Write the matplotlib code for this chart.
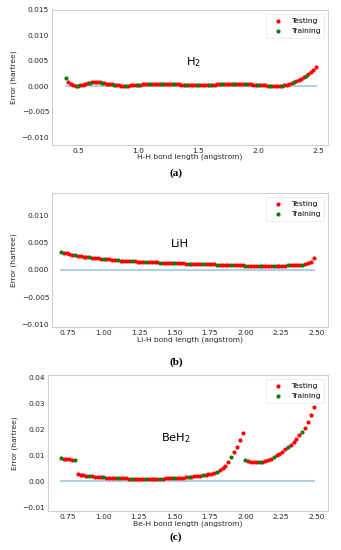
import numpy as np
import matplotlib
matplotlib.use('Agg')
import matplotlib.pyplot as plt

# bond lengths (angstrom), sampled every 0.02
x_h2 = np.arange(40, 250, 2) / 100.0
x_lih = np.arange(70, 250, 2) / 100.0
x_beh2 = np.arange(70, 250, 2) / 100.0

err_h2 = [
    .0017, .0009, .0004, .0002, .0001, .0001, .0002, .0003, .0004, .0006,
    .0007, .0008, .0008, .0008, .0008, .0007, .0006, .0005, .0004, .0004,
    .0003, .0002, .0002, .0001, .0001, .0001, .0001, .0002, .0002, .0002,
    .0003, .0003, .0004, .0004, .0004, .0005, .0005, .0005, .0005, .0005,
    .0005, .0005, .0005, .0004, .0004, .0004, .0004, .0004, .0003, .0003,
    .0003, .0003, .0003, .0003, .0003, .0003, .0003, .0003, .0003, .0003,
    .0003, .0003, .0003, .0004, .0004, .0004, .0004, .0004, .0004, .0004,
    .0004, .0004, .0004, .0004, .0004, .0004, .0004, .0004, .0003, .0003,
    .0003, .0003, .0002, .0002, .0001, .0001, .0001, .0001, .0001, .0001,
    .0001, .0002, .0003, .0004, .0006, .0008, .0010, .0012, .0015, .0018,
    .0021, .0025, .0029, .0033, .0038,
]

err_lih = [
    .0033, .0031, .0030, .0029, .0028, .0027, .0026, .0025, .0024, .0023,
    .0023, .0022, .0021, .0021, .0020, .0020, .0019, .0019, .0018, .0018,
    .0018, .0017, .0017, .0017, .0016, .0016, .0016, .0015, .0015, .0015,
    .0015, .0014, .0014, .0014, .0014, .0013, .0013, .0013, .0013, .0012,
    .0012, .0012, .0012, .0012, .0011, .0011, .0011, .0011, .0011, .0010,
    .0010, .0010, .0010, .0010, .0010, .0009, .0009, .0009, .0009, .0009,
    .0008, .0008, .0008, .0008, .0008, .0007, .0007, .0007, .0007, .0007,
    .0007, .0007, .0007, .0007, .0007, .0007, .0007, .0007, .0007, .0007,
    .0008, .0008, .0008, .0008, .0009, .0009, .0010, .0012, .0015, .0022,
]

err_beh2 = [
    .0090, .0087, .0085, .0084, .0083, .0081, .0028, .0025, .0023, .0021,
    .0019, .0018, .0017, .0016, .0015, .0015, .0014, .0013, .0013, .0012,
    .0012, .0011, .0011, .0011, .0010, .0010, .0010, .0010, .0009, .0009,
    .0009, .0009, .0009, .0009, .0010, .0010, .0010, .0011, .0011, .0012,
    .0012, .0013, .0013, .0014, .0015, .0016, .0017, .0018, .0019, .0020,
    .0022, .0024, .0026, .0028, .0032, .0036, .0042, .0050, .0060, .0075,
    .0093, .0112, .0133, .0158, .0187, .0082, .0077, .0075, .0073, .0073,
    .0073, .0075, .0078, .0082, .0087, .0093, .0099, .0106, .0114, .0122,
    .0131, .0141, .0152, .0164, .0177, .0188, .0206, .0228, .0254, .0286,
]

panels = [
    dict(x=x_h2, y=err_h2, name=r'H$_2$', xlabel='H-H bond length (angstrom)',
         cap='(a)', xlim=(0.283, 2.583), ylim=(-0.0115, 0.015),
         yticks=[-0.010, -0.005, 0.0, 0.005, 0.010, 0.015], yfmt='{:.3f}',
         xticks=[0.5, 1.0, 1.5, 2.0, 2.5], xfmt='{:.1f}', lbl=(1.46, 0.0047),
         box=(52, 10, 328, 145), xl_y=157, cap_y=173),
    dict(x=x_lih, y=err_lih, name='LiH', xlabel='Li-H bond length (angstrom)',
         cap='(b)', xlim=(0.637, 2.582), ylim=(-0.0105, 0.0141),
         yticks=[-0.010, -0.005, 0.0, 0.005, 0.010], yfmt='{:.3f}',
         xticks=[0.75, 1.0, 1.25, 1.5, 1.75, 2.0, 2.25, 2.5], xfmt='{:.2f}',
         lbl=(1.54, 0.0047), box=(52, 193, 328, 327), xl_y=340, cap_y=362),
    dict(x=x_beh2, y=err_beh2, name=r'BeH$_2$', xlabel='Be-H bond length (angstrom)',
         cap='(c)', xlim=(0.61, 2.582), ylim=(-0.0115, 0.0409),
         yticks=[-0.01, 0.0, 0.01, 0.02, 0.03, 0.04], yfmt='{:.2f}',
         xticks=[0.75, 1.0, 1.25, 1.5, 1.75, 2.0, 2.25, 2.5], xfmt='{:.2f}',
         lbl=(1.51, 0.0167), box=(48, 375, 328, 511), xl_y=524, cap_y=537),
]

W, H = 341, 550
fig = plt.figure(figsize=(W / 100, H / 100), dpi=100)
fs = 5.4

for p in panels:
    l, t, r, b = p['box']
    ax = fig.add_axes([l / W, 1 - b / H, (r - l) / W, (b - t) / H])
    x = np.asarray(p['x'])
    y = np.asarray(p['y'])
    train = np.round(x * 100).astype(int) % 10 == 0

    ax.plot([x[0], x[-1]], [0, 0], color='#b0d0e8', lw=1.5, zorder=1)
    ax.scatter(x[~train], y[~train], s=9, color='red', lw=0, label='Testing', zorder=3)
    ax.scatter(x[train], y[train], s=9, color='green', lw=0, label='Training', zorder=3)

    ax.set_xlim(*p['xlim'])
    ax.set_ylim(*p['ylim'])
    ax.set_xticks(p['xticks'])
    ax.set_xticklabels([p['xfmt'].format(v) for v in p['xticks']])
    ax.set_yticks(p['yticks'])
    ax.set_yticklabels([p['yfmt'].format(v).replace('-', '\u2212') for v in p['yticks']])
    ax.tick_params(length=0, pad=2, labelsize=fs, colors='#262626')
    for s in ax.spines.values():
        s.set_color('#d0d0d0')
        s.set_linewidth(0.8)

    ax.set_ylabel('Error (hartree)', fontsize=fs, color='#262626', labelpad=3)
    fig.text((l + r) / 2 / W, 1 - p['xl_y'] / H, p['xlabel'], fontsize=fs,
             color='#262626', ha='center', va='center')
    ax.text(p['lbl'][0], p['lbl'][1], p['name'], fontsize=8.2, ha='center', va='center')

    leg = ax.legend(loc='upper right', fontsize=fs, markerscale=1.0, handletextpad=0.8,
                    borderpad=0.5, labelspacing=0.5, framealpha=0.8)
    leg.get_frame().set_edgecolor('#e0e0e0')
    leg.get_frame().set_linewidth(0.5)

    fig.text(176 / W, 1 - p['cap_y'] / H, p['cap'], fontsize=8, family='Liberation Serif',
             fontweight='bold', ha='center', va='center')

fig.savefig('out.png', dpi=100)
print('Saved: out.png')
